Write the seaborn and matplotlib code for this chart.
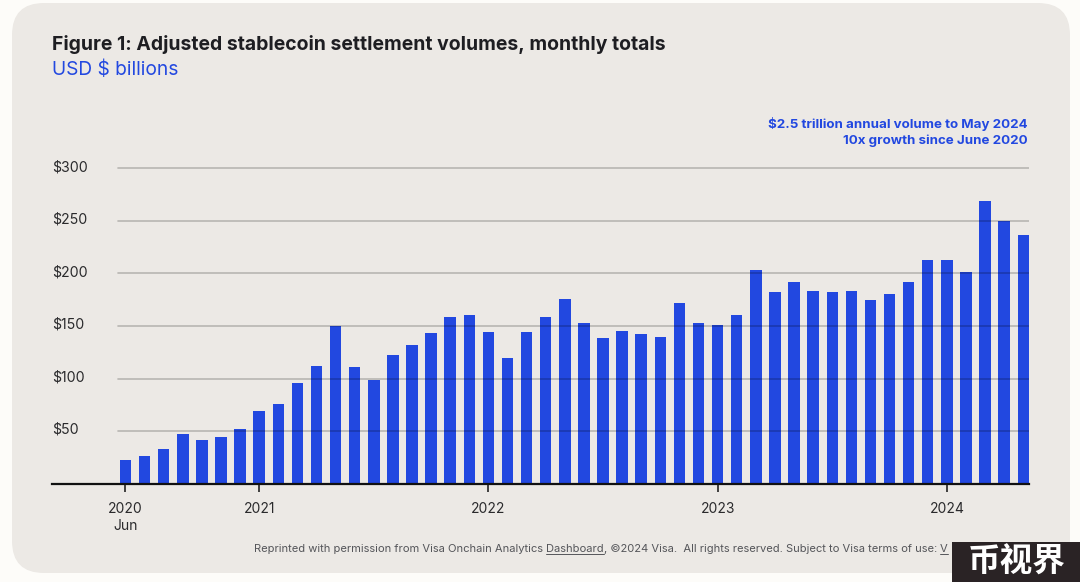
import matplotlib
matplotlib.use("Agg")
import matplotlib.pyplot as plt
import seaborn as sns
import pandas as pd
from matplotlib.patches import FancyBboxPatch, Rectangle
from matplotlib.transforms import IdentityTransform

months = [f"{y}-{m:02d}" for y, ms in [(2020, range(6, 13)), (2021, range(1, 13)), (2022, range(1, 13)),
                                       (2023, range(1, 13)), (2024, range(1, 6))] for m in ms]
volumes = [22, 26, 33, 47, 41, 44, 52,
           69, 76, 96, 112, 150, 111, 99, 122, 132, 143, 159, 160,
           144, 120, 144, 159, 176, 153, 139, 145, 142, 140, 172, 153,
           151, 160, 203, 182, 192, 183, 182, 183, 175, 180, 192, 213,
           213, 201, 269, 250, 237]
y_ticks = [50, 100, 150, 200, 250, 300]
y_tick_labels = ["$50", "$100", "$150", "$200", "$250", "$300"]
x_tick_months = ["2020-06", "2021-01", "2022-01", "2023-01", "2024-01"]
x_tick_labels = ["2020\nJun", "2021", "2022", "2023", "2024"]
title = "Figure 1: Adjusted stablecoin settlement volumes, monthly totals"
subtitle = "USD \\$ billions"
note = "\\$2.5 trillion annual volume to May 2024\n10x growth since June 2020"
foot_a = "Reprinted with permission from Visa Onchain Analytics "
foot_b = "Dashboard"
foot_c = ", ©2024 Visa.  All rights reserved. Subject to Visa terms of use: "
foot_d = "V"
mark = "币视界"

W, H = 1080, 582
BLUE = "#2248E0"
PANEL = "#ECE9E5"
INK = "#2A2A2C"
FONT = ["Inter", "DejaVu Sans"]

sns.set_theme(style="white")
plt.rcParams["font.family"] = FONT

fig = plt.figure(figsize=(W / 100, H / 100), dpi=100, facecolor="#FDFCF9")
fig.add_artist(FancyBboxPatch((12, 9), 1058, 570, boxstyle="round,pad=0,rounding_size=1", linewidth=0,
                              facecolor=PANEL, transform=IdentityTransform(), mutation_scale=32,
                              zorder=-5))

L, R, B, T = 52, 1029, H - 483.5, H - 160
ax = fig.add_axes([L / W, B / H, (R - L) / W, (T - B) / H], facecolor="none")
df = pd.DataFrame({"month": months, "volume": volumes})
sns.barplot(data=df, x="month", y="volume", order=months, color=BLUE, saturation=1,
            width=0.6, ax=ax, zorder=2, linewidth=0)

step = (1023.2 - 125.4) / 47
ax.set_xlim(47.3 - (R - L) / step, 47.3)
ax.set_ylim(0, (T - B) / 1.05)
ax.set_xlabel("")
ax.set_ylabel("")
for s in ["top", "left", "right"]:
    ax.spines[s].set_visible(False)
ax.spines["bottom"].set_color("#111111")
ax.spines["bottom"].set_linewidth(1.6)
ax.spines["bottom"].set_zorder(5)

for v in y_ticks:
    ax.axhline(v, xmin=(118 - L) / (R - L), xmax=1, color="black", alpha=0.22, lw=1.2, zorder=3)

ax.set_xticks([months.index(m) for m in x_tick_months])
ax.set_xticklabels(x_tick_labels, fontsize=10, color=INK, linespacing=1.35)
ax.tick_params(axis="x", bottom=True, length=6, width=1.1, color="#111111", pad=7)

ax.set_yticks(y_ticks)
ax.set_yticklabels([])
ax.tick_params(axis="y", left=False)
for v, lab in zip(y_ticks, y_tick_labels):
    ax.text(0, v + 1, lab.replace("$", "\\$"), transform=ax.get_yaxis_transform(), ha="left", va="center",
            fontsize=10.2, color=INK)

fig.text(52 / W, 1 - 45 / H, title, fontsize=13.95, fontweight="bold", color="#1E1E22", va="center", ha="left")
fig.text(52 / W, 1 - 70 / H, subtitle, fontsize=13.8, color=BLUE, va="center", ha="left")
fig.text(1028 / W, 1 - 132 / H, note, fontsize=9.6, fontweight="bold", color=BLUE, va="center", ha="right",
         linespacing=1.3)

fig.canvas.draw()
rend = fig.canvas.get_renderer()
x = 254.0
y_foot = 1 - 551.5 / H
for piece, under in [(foot_a, False), (foot_b, True), (foot_c, False), (foot_d, True)]:
    t = fig.text(x / W, y_foot, piece, fontsize=8.05, color="#55565A", va="baseline", ha="left")
    width = t.get_window_extent(rend).width
    if under:
        fig.add_artist(plt.Line2D([x / W, (x + width) / W], [y_foot - 2.5 / H] * 2, color="#55565A", lw=0.7))
    x += width

fig.add_artist(Rectangle((952, 0), 128, 40, transform=IdentityTransform(), facecolor="#2A2325", linewidth=0,
                         zorder=6))
fig.text(1017 / W, 1 - 562 / H, mark, fontsize=23.5, fontweight="bold", color="white", ha="center", va="center",
         family=["Noto Sans CJK SC", "DejaVu Sans"], zorder=7)

fig.savefig("out.png", dpi=100, facecolor=fig.get_facecolor())
